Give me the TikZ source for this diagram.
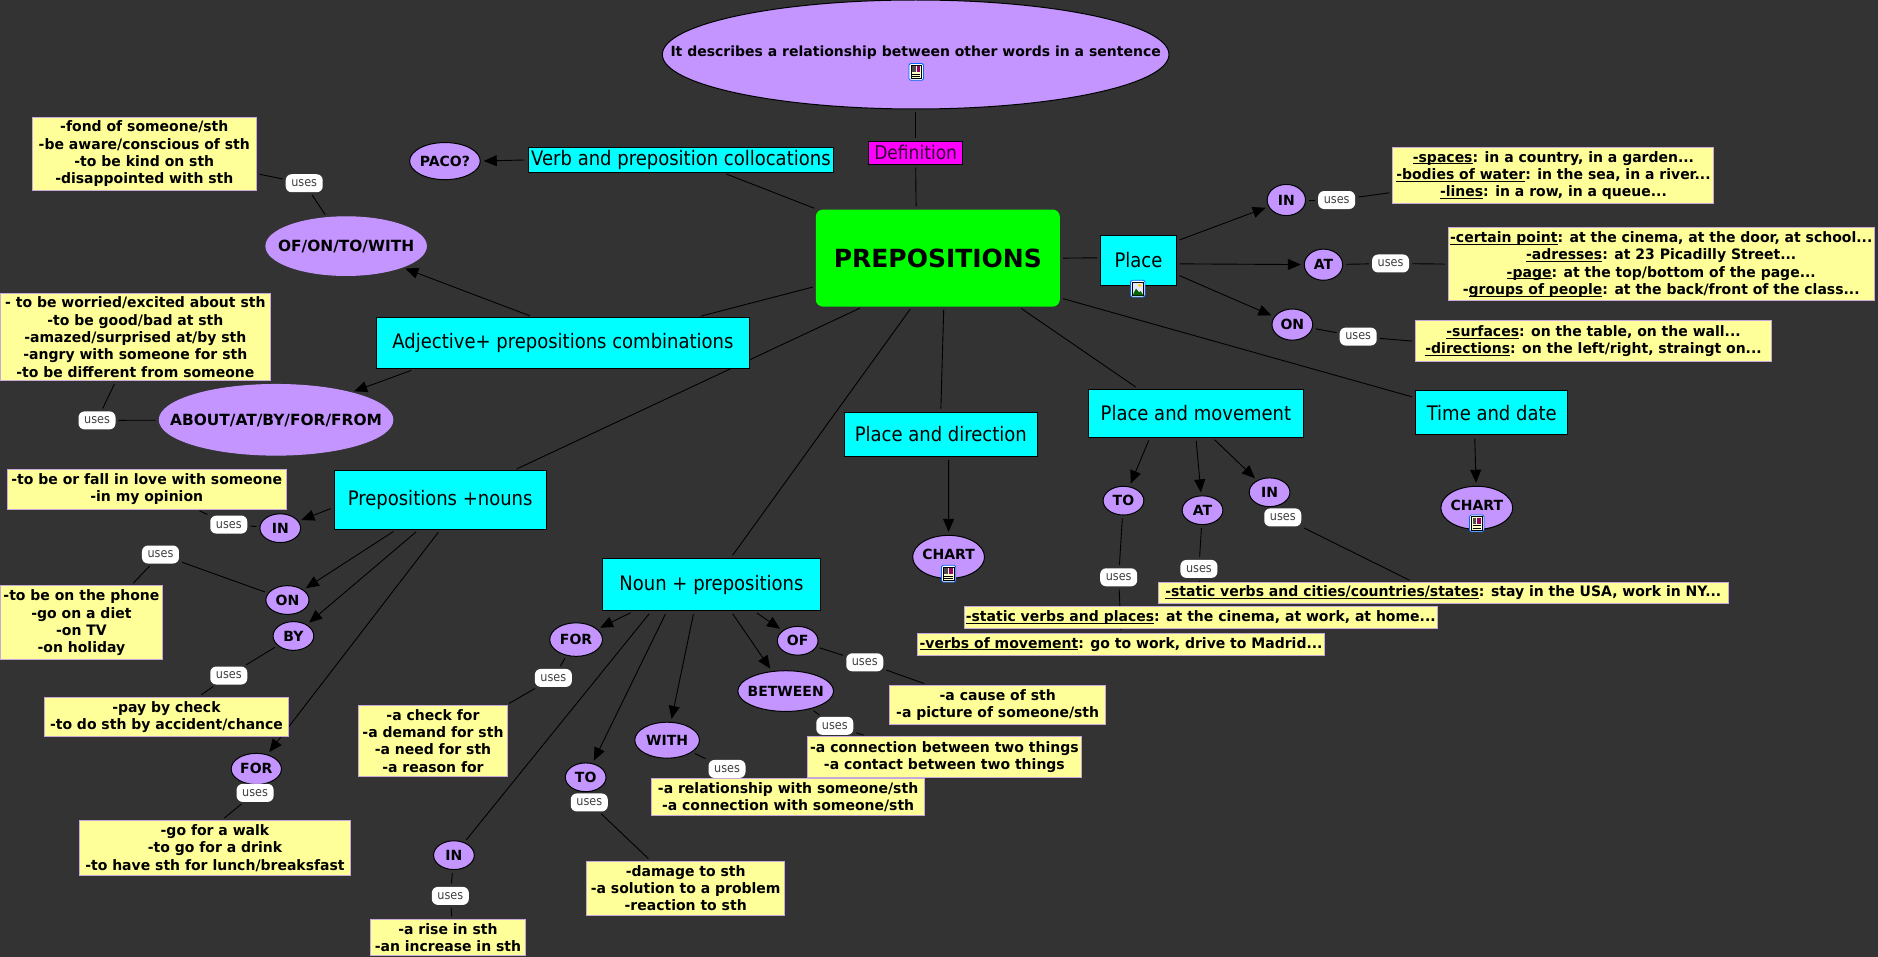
\documentclass[tikz,border=0pt]{standalone}
\usepackage{fontspec}
\setmainfont{DejaVu Sans}
\newfontfamily\ybf[FakeStretch=0.972]{DejaVu Sans}
\newfontfamily\creg[FakeStretch=0.9]{DejaVu Sans}
\usetikzlibrary{shapes.geometric,arrows.meta,backgrounds}
\definecolor{bgc}{HTML}{333333}
\definecolor{purp}{HTML}{C495FF}
\definecolor{yel}{HTML}{FFFF99}
\definecolor{yelb}{HTML}{C8A8D8}
\definecolor{cyanb}{HTML}{00FFFF}
\definecolor{greenb}{HTML}{00FF00}
\definecolor{magb}{HTML}{FF00FF}
\newcommand\ul[1]{\underline{\smash{#1}}}
% text that does not widen its ellipse: \ct{raise}{text}
\newcommand\ct[2]{\raisebox{\dimexpr-.36em+#1\relax}[0pt][0pt]{\makebox[0pt]{#2}}}
% \nd{style}{name}{x1}{y1}{x2}{y2}{text}: coordinates in the shrunk reference frame
\newcommand\nd[7]{%
  \pgfmathsetmacro\ndcx{(#3+#5)/2}\pgfmathsetmacro\ndcy{(#4+#6)/2}%
  \pgfmathsetmacro\ndw{(#5-#3)*1.1977}\pgfmathsetmacro\ndh{(#6-#4)*1.1977}%
  \node[#1,minimum width=\ndw pt,minimum height=\ndh pt] (#2) at (\ndcx,\ndcy) {#7};}
% \el{name}{cx,cy}{rx}{ry}{text}
\newcommand\el[5]{\pgfmathsetmacro\ndw{#3*2.3954}\pgfmathsetmacro\ndh{#4*2.3954}%
  \node[small,minimum width=\ndw pt,minimum height=\ndh pt] (#1) at (#2) {\ct{0pt}{#5}};}
\newcommand\elc[5]{\pgfmathsetmacro\ndw{#3*2.3954}\pgfmathsetmacro\ndh{#4*2.3954}%
  \node[small,minimum width=\ndw pt,minimum height=\ndh pt] (#1) at (#2) {\ct{2.5pt}{#5}};}
\newcommand\us[2]{\node[usesl] (#1) at (#2) {uses};}
\newcommand\docicon[1]{\begin{scope}[shift={(#1)}]
  \fill[white,draw=blue!60!cyan,line width=.8pt,rounded corners=1.5pt] (-6,-7) rectangle (6,7);
  \fill[yel!50!white,draw=black,line width=.5pt] (-4.4,-5.6) rectangle (4.4,5.6);
  \fill[black!70] (-3.5,-4.6) rectangle (-.6,.2);
  \fill[blue!40!red] (.4,-4.6) rectangle (3.5,.2);
  \draw[black,line width=.8pt] (-3.5,2) -- (3.5,2) (-3.5,3.8) -- (3.5,3.8);
  \end{scope}}
\newcommand\picicon[1]{\begin{scope}[shift={(#1)}]
  \fill[white,draw=blue!60!cyan,line width=.8pt,rounded corners=1.5pt] (-6,-7) rectangle (6,7);
  \fill[blue!10!white,draw=black,line width=.5pt] (-4.4,-5.6) rectangle (4.4,5.6);
  \fill[yellow!80!orange] (1.6,-2.8) circle (1.5);
  \fill[green!40!black] (-4.4,5.6) -- (-1.5,0) -- (1,3) -- (2.5,2) -- (4.4,5.6) -- cycle;
  \end{scope}}
\tikzset{
  x=1.1977pt,y=-1.1977pt,
  lk/.style={draw=black,line width=.9pt,shorten <=3pt,shorten >=3pt},
  ar/.style={lk,-{Triangle[length=13pt,width=11pt]}},
  yb/.style={rectangle,draw=yelb,fill=yel,line width=1pt,inner sep=0pt,align=center,text=black,font=\fontsize{14.4}{17.4}\selectfont\ybf\bfseries},
  cb/.style={rectangle,draw=black,fill=cyanb,line width=1pt,inner sep=0pt,align=center,text=black,font=\fontsize{20}{24}\selectfont\creg},
  big/.style={ellipse,draw=black,fill=purp,line width=1pt,inner sep=0pt,align=center,text=black,font=\fontsize{14}{17}\selectfont\bfseries},
  bign/.style={big,draw=purp,font=\fontsize{15.4}{17}\selectfont\bfseries},
  small/.style={ellipse,draw=black,fill=purp,line width=1pt,inner sep=0pt,align=center,text=black,font=\fontsize{14}{17}\selectfont\bfseries},
  usesl/.style={rectangle,rounded corners=6pt,fill=white,inner sep=0pt,minimum width=37pt,minimum height=18pt,text=black!75,font=\fontsize{12.5}{15}\selectfont\creg},
}
\begin{document}
\begin{tikzpicture}
\begin{scope}[on background layer]
\fill[bgc] (0,0) rectangle (1568,799);
\end{scope}
\useasboundingbox (0,0) rectangle (1568,799);
% main
\node[rectangle,rounded corners=7pt,fill=greenb,minimum width=244pt,minimum height=97pt,inner sep=0pt,text=black,font=\fontsize{25}{30}\selectfont\bfseries] (main) at (783,215.5) {PREPOSITIONS};
\nd{big}{defe}{553}{0}{976}{91}{\ct{3pt}{It describes a relationship between other words in a sentence}}
\nd{cb,fill=magb,text=black!80!magb,font=\fontsize{19}{23}\selectfont\creg}{def}{725}{118}{804}{137}{Definition}
\nd{cb}{verb}{441}{123}{696}{144}{Verb and preposition collocations}
\nd{big}{paco}{342}{119}{401}{150}{\ct{0pt}{PACO?}}
\nd{cb}{place}{919}{197}{982}{238}{Place}
\nd{cb}{adj}{314}{265}{626}{308}{Adjective+ prepositions combinations}
\nd{cb}{pnoun}{279}{393}{456}{442}{Prepositions +nouns}
\nd{cb}{nprep}{503}{466}{685}{510}{Noun + prepositions}
\nd{cb}{dir}{705}{344}{866}{381}{Place and direction}
\nd{cb}{mov}{909}{325}{1088}{365}{Place and movement}
\nd{cb}{time}{1182}{326}{1309}{363}{Time and date}
\nd{bign}{ofon}{222}{181}{356}{230}{\ct{0pt}{OF/ON/TO/WITH}}
\nd{bign}{about}{133}{321}{328}{380}{\ct{0pt}{ABOUT/AT/BY/FOR/FROM}}
% small ellipses
\el{pin}{1074,167}{16}{13}{IN}
\el{pat}{1105,221}{16}{13}{AT}
\el{pon}{1079,271}{17}{13}{ON}
\el{nin}{234,441}{17}{12}{IN}
\el{non}{240,501}{18}{12}{ON}
\el{nby}{245,531}{17}{12}{BY}
\el{nfor}{214,642}{21}{13}{FOR}
\el{cfor}{481,534}{22}{14}{FOR}
\el{cof}{666,535}{17}{12}{OF}
\el{cbet}{656,577}{40}{17}{BETWEEN}
\el{cwith}{557,618}{27}{15}{WITH}
\el{cto}{489,649}{17}{12}{TO}
\el{cin}{379,714}{17}{12}{IN}
\el{mto}{938,418}{17}{12}{TO}
\el{mat}{1004,426}{17}{12}{AT}
\el{min}{1060,411}{17}{12}{IN}
\elc{chone}{792,465}{30}{18}{CHART}
\elc{chtwo}{1233,424}{30}{18}{CHART}
% uses
\us{upin}{1116,167}\us{upat}{1161,220}\us{upon}{1134,281}
\us{uof}{254,153}\us{uab}{81,351}
\us{uin}{191,438}\us{uon}{134,463}\us{uby}{191,564}\us{ufor}{213,662}
\us{ucf}{462,566}\us{uco}{722,553}\us{ucb}{697,606}\us{ucw}{607,642}\us{uct}{492,670}\us{uci}{376,748}
\us{umt}{934,482}\us{uma}{1001,475}\us{umi}{1071,432}
% yellow boxes
\nd{yb}{ypin}{1163}{123}{1431}{170}{\ul{-spaces}: in a country, in a garden...\\\ul{-bodies of water}: in the sea, in a river...\\\ul{-lines}: in a row, in a queue...}
\nd{yb}{ypat}{1209}{190}{1565}{251}{\ul{-certain point}: at the cinema, at the door, at school...\\\ul{-adresses}: at 23 Picadilly Street...\\\ul{-page}: at the top/bottom of the page...\\-\ul{groups of people}: at the back/front of the class...}
\nd{yb}{ypon}{1182}{268}{1479}{302}{\ul{-surfaces}: on the table, on the wall...\\\ul{-directions}: on the left/right, straingt on...}
\nd{yb}{yof}{27}{98}{214}{159}{-fond of someone/sth\\-be aware/conscious of sth\\-to be kind on sth\\-disappointed with sth}
\nd{yb}{yab}{0}{245}{226}{318}{- to be worried/excited about sth\\-to be good/bad at sth\\-amazed/surprised at/by sth\\-angry with someone for sth\\-to be different from someone}
\nd{yb}{yin}{6}{392}{239}{425}{-to be or fall in love with someone\\-in my opinion}
\nd{yb}{yon}{0}{489}{136}{551}{-to be on the phone\\-go on a diet\\-on TV\\-on holiday}
\nd{yb}{yby}{37}{582}{241}{615}{-pay by check\\-to do sth by accident/chance}
\nd{yb}{yfor}{66}{685}{293}{731}{-go for a walk\\-to go for a drink\\-to have sth for lunch/breaksfast}
\nd{yb}{ycf}{299}{589}{424}{648}{-a check for\\-a demand for sth\\-a need for sth\\-a reason for}
\nd{yb}{yco}{743}{572}{923}{605}{-a cause of sth\\-a picture of someone/sth}
\nd{yb}{ycb}{674}{615}{903}{649}{-a connection between two things\\-a contact between two things}
\nd{yb}{ycw}{544}{650}{772}{681}{-a relationship with someone/sth\\-a connection with someone/sth}
\nd{yb}{yct}{490}{719}{655}{764}{-damage to sth\\-a solution to a problem\\-reaction to sth}
\nd{yb}{yci}{309}{768}{439}{798}{-a rise in sth\\-an increase in sth}
\nd{yb}{ymi}{967}{486}{1443}{504}{\ul{-static verbs and cities/countries/states}: stay in the USA, work in NY...}
\nd{yb}{yma}{805}{506}{1200}{525}{\ul{-static verbs and places}: at the cinema, at work, at home...}
\nd{yb}{ymt}{766}{529}{1106}{547}{\ul{-verbs of movement}: go to work, drive to Madrid...}
% icons
\docicon{765,60}\docicon{792,479}\docicon{1233,437}\picicon{950,241}
% connectors
\begin{scope}[on background layer]
\draw[lk] (defe.south) -- (def.north);
\draw[lk] (def.south) -- (main.114);
\draw[lk] (main.158) -- (verb.343.5);
\draw[ar] (verb.west) -- (paco.east);
\draw[lk] (main.193.4) -- (adj.11.4);
\draw[ar] (adj.139.3) -- (ofon);
\draw[ar] (adj.190.2) -- (about);
\draw[lk] (ofon) -- (uof);
\draw[lk] (uof) -- (yof.350);
\draw[lk] (about) -- (uab);
\draw[lk] (uab) -- (yab.246.3);
\draw[lk] (main.213.6) -- (pnoun.22.7);
\draw[ar] (pnoun.184.8) -- (nin);
\draw[ar] (pnoun.214.6) -- (non);
\draw[ar] (pnoun.234.5) -- (nby);
\draw[ar] (pnoun.south) -- (nfor);
\draw[lk] (nin) -- (uin);
\draw[lk] (uin) -- (yin.338.8);
\draw[lk] (non) -- (uon);
\draw[lk] (uon) -- (yon.37.8);
\draw[lk] (nby) -- (uby);
\draw[lk] (uby) -- (yby.32.4);
\draw[lk] (nfor) -- (ufor);
\draw[lk] (ufor) -- (yfor.76.6);
\draw[lk] (main.242.6) -- (nprep.54);
\draw[ar] (nprep.199) -- (cfor);
\draw[ar] (nprep.328.6) -- (cof);
\draw[ar] (nprep.306) -- (cbet);
\draw[ar] (nprep.237.5) -- (cwith);
\draw[ar] (nprep.211.4) -- (cto);
\draw[lk] (nprep.204.2) -- (cin);
\draw[lk] (cfor) -- (ucf);
\draw[lk] (ucf) -- (ycf.26.8);
\draw[lk] (cof) -- (uco);
\draw[lk] (uco) -- (yco.164.1);
\draw[lk] (cbet) -- (ucb);
\draw[lk] (ucb) -- (ycb.165);
\draw[lk] (cwith) -- (ucw);
\draw[lk] (ucw) -- (ycw.157.8);
\draw[lk] (cto) -- (uct);
\draw[lk] (uct) -- (yct.142.7);
\draw[lk] (cin) -- (uci);
\draw[lk] (uci) -- (yci.78.7);
\draw[lk] (main.277) -- (dir.north);
\draw[ar] (dir.289.4) -- (chone);
\draw[lk] (main.329.2) -- (mov.157.6);
\draw[ar] (mov.208.7) -- (mto);
\draw[ar] (mov.south) -- (mat);
\draw[ar] (mov.304) -- (min);
\draw[lk] (mto) -- (umt);
\draw[lk] (umt) -- (ymt.north);
\draw[lk] (mat) -- (uma);
\draw[lk] (uma) -- (yma.north);
\draw[lk] (min) -- (umi);
\draw[lk] (umi) -- (ymi.160.2);
\draw[lk] (main.342.8) -- (time.169.7);
\draw[ar] (time.233.9) -- (chtwo);
\draw[lk] (main.east) -- (place.176);
\draw[ar] (place.27.6) -- (pin);
\draw[ar] (place.355.5) -- (pat);
\draw[ar] (place.340) -- (pon);
\draw[lk] (pin) -- (upin);
\draw[lk] (upin) -- (ypin.186.6);
\draw[lk] (pat) -- (upat);
\draw[lk] (upat) -- (ypat.west);
\draw[lk] (pon) -- (upon);
\draw[lk] (upon) -- (ypon.west);
\end{scope}
\end{tikzpicture}
\end{document}
